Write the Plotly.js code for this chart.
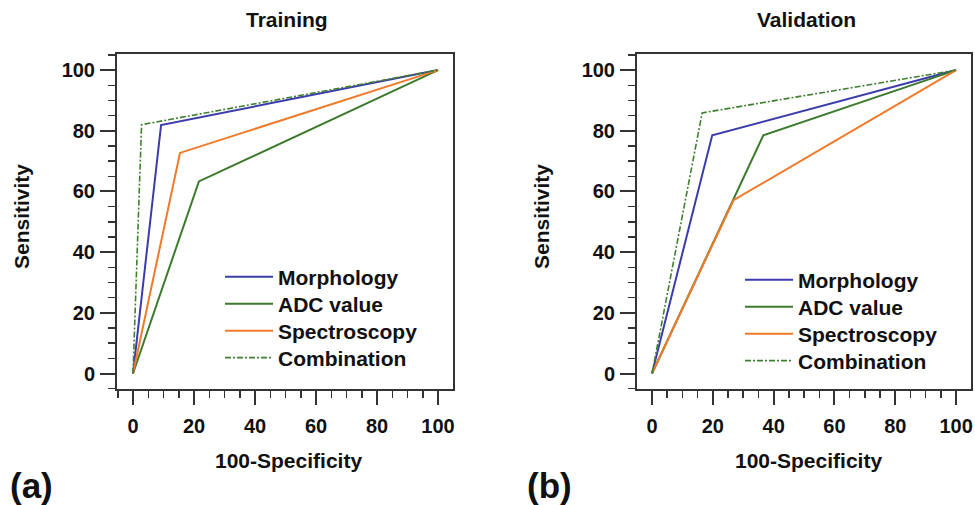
<!DOCTYPE html>
<html>
<head>
<meta charset="utf-8">
<script src="https://cdn.plot.ly/plotly-3.0.1.min.js"></script>
<style>html,body{margin:0;padding:0;background:#fff;}#chart{width:975px;height:505px;}</style>
</head>
<body>
<div id="chart"></div>
<script>
// ---- data ----
const seriesNames = ["Morphology", "ADC value", "Spectroscopy", "Combination"];
// Training
const trainMorphX = [0, 9.2, 100];
const trainMorphY = [0, 81.9, 100];
const trainAdcX = [0, 21.6, 100];
const trainAdcY = [0, 63.3, 100];
const trainSpecX = [0, 15.4, 100];
const trainSpecY = [0, 72.7, 100];
const trainCombX = [0, 2.8, 100];
const trainCombY = [0, 82.0, 100];
// Validation
const valMorphX = [0, 19.8, 100];
const valMorphY = [0, 78.5, 100];
const valAdcX = [0, 26.8, 36.6, 100];
const valAdcY = [0, 57.1, 78.5, 100];
const valSpecX = [0, 26.8, 100];
const valSpecY = [0, 57.1, 100];
const valCombX = [0, 16.5, 100];
const valCombY = [0, 85.9, 100];
const tickVals = [0, 20, 40, 60, 80, 100];
const tickText = ["0", "20", "40", "60", "80", "100"];
const panelTitles = ["Training", "Validation"];
const panelLabels = ["(a)", "(b)"];
const xTitle = "100-Specificity";
const yTitle = "Sensitivity";

// ---- styles ----
const FONT = '"Liberation Sans", Arial, Helvetica, sans-serif';
const W = 975, H = 505;
const colors = ["#3b3bac", "#3c7a2c", "#f07a2a", "#3f8030"];
const widths = [2, 2, 2, 1.6];
const dashes = ["solid", "solid", "solid", "6px,2px,2px,2px"];

function line(x, y, i, xa, ya, leg) {
  return {
    type: "scatter", mode: "lines", x: x, y: y, name: seriesNames[i],
    xaxis: xa, yaxis: ya, legend: leg,
    line: {color: colors[i], width: widths[i], dash: dashes[i]},
    hoverinfo: "skip"
  };
}

const data = [
  line(trainMorphX, trainMorphY, 0, "x", "y", "legend"),
  line(trainAdcX, trainAdcY, 1, "x", "y", "legend2"),
  line(trainSpecX, trainSpecY, 2, "x", "y", "legend3"),
  line(trainCombX, trainCombY, 3, "x", "y", "legend4"),
  line(valMorphX, valMorphY, 0, "x2", "y2", "legend5"),
  line(valAdcX, valAdcY, 1, "x2", "y2", "legend6"),
  line(valSpecX, valSpecY, 2, "x2", "y2", "legend7"),
  line(valCombX, valCombY, 3, "x2", "y2", "legend8")
];

function legendAt(xpx, ypx) {
  return {
    x: xpx / W, y: 1 - ypx / H, xanchor: "left", yanchor: "middle",
    bgcolor: "rgba(0,0,0,0)", borderwidth: 0,
    font: {family: FONT, size: 21, color: "#111", weight: "bold"},
    itemwidth: 48, itemclick: false, itemdoubleclick: false
  };
}

function axisX(domain, range) {
  return {
    domain: domain, range: range, tickmode: "array", tickvals: tickVals, ticktext: tickText,
    showline: true, mirror: true, linecolor: "#333", linewidth: 2,
    ticks: "outside", ticklen: 14, tickwidth: 2, tickcolor: "#333",
    minor: {dtick: 5, ticks: "outside", ticklen: 7, tickwidth: 1.5, tickcolor: "#333"},
    showgrid: false, zeroline: false, fixedrange: true, ticklabelstandoff: 4,
    tickfont: {family: FONT, size: 20, color: "#111", weight: "bold"}
  };
}
function axisY(domain, range, anchor) {
  const a = axisX(domain, range);
  a.anchor = anchor;
  a.ticklen = 15;
  a.ticklabelstandoff = 1;
  return a;
}

const yDom = [116 / H, 451 / H];
const yRange = [-5.1, 105.3];

const layout = {
  width: W, height: H,
  margin: {l: 0, r: 0, t: 0, b: 0},
  paper_bgcolor: "#fff", plot_bgcolor: "#fff",
  showlegend: true,
  xaxis: Object.assign(axisX([117 / W, 453 / W], [-5.25, 104.9]), {anchor: "y"}),
  yaxis: axisY(yDom, yRange, "x"),
  xaxis2: Object.assign(axisX([637 / W, 971 / W], [-4.93, 104.9]), {anchor: "y2"}),
  yaxis2: axisY(yDom, yRange, "x2"),
  legend: legendAt(220, 277),
  legend2: legendAt(220, 304),
  legend3: legendAt(220, 331),
  legend4: legendAt(220, 358),
  legend5: legendAt(740, 280),
  legend6: legendAt(740, 307),
  legend7: legendAt(740, 334),
  legend8: legendAt(740, 361),
  annotations: []
};

function ann(text, xpx, ypx, size, angle) {
  return {
    text: text, xref: "paper", yref: "paper", x: xpx / W, y: 1 - ypx / H,
    xanchor: "center", yanchor: "middle", showarrow: false, textangle: angle || 0,
    font: {family: FONT, size: size, color: "#111", weight: "bold"}
  };
}
layout.annotations.push(ann(panelTitles[0], 287, 19, 21));
layout.annotations.push(ann(panelTitles[1], 806, 19, 21));
layout.annotations.push(ann(xTitle, 288, 460, 21));
layout.annotations.push(ann(xTitle, 808, 460, 21));
layout.annotations.push(ann(yTitle, 22, 217, 21, -90));
layout.annotations.push(ann(yTitle, 542, 217, 21, -90));
layout.annotations.push(ann(panelLabels[0], 31, 485, 35));
layout.annotations.push(ann(panelLabels[1], 549, 485, 35));

Plotly.newPlot("chart", data, layout, {displayModeBar: false, staticPlot: true});
</script>
</body>
</html>
